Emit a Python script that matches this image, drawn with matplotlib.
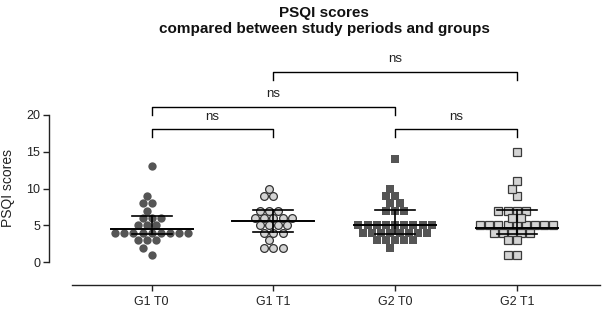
import numpy as np
import matplotlib
matplotlib.use("Agg")
import matplotlib.pyplot as plt

plt.rcParams["font.family"] = ["Liberation Sans", "DejaVu Sans"]

# data
groups = ["G1 T0", "G1 T1", "G2 T0", "G2 T1"]
g1_t0 = [13, 9, 8, 8, 7, 6, 6, 6, 5, 5, 5, 4, 4, 4, 4, 4, 4, 4, 4, 4, 3, 3, 3, 2, 1]
g1_t1 = [10, 9, 9, 7, 7, 7, 6, 6, 6, 6, 6, 5, 5, 5, 5, 4, 4, 4, 3, 2, 2, 2]
g2_t0 = [14, 10, 9, 9, 8, 8, 7, 7, 7, 5, 5, 5, 5, 5, 5, 5, 5, 5,
         4, 4, 4, 4, 4, 4, 4, 4, 3, 3, 3, 3, 3, 2]
g2_t1 = [15, 11, 10, 9, 7, 7, 7, 7, 6, 6, 5, 5, 5, 5, 5, 5, 5, 5, 5,
         4, 4, 4, 4, 4, 3, 3, 1, 1]
medians = [4.5, 5.6, 5.0, 4.7]
err_low = [3.8, 4.1, 3.9, 3.8]
err_high = [6.3, 7.1, 7.1, 7.1]

# comparisons: (left group, right group, bracket height)
brackets = [(0, 1, 18.05), (2, 3, 18.05), (0, 2, 21.1), (1, 3, 25.85)]
bracket_labels = ["ns", "ns", "ns", "ns"]

series = [g1_t0, g1_t1, g2_t0, g2_t1]
markers = ["o", "o", "s", "s"]
faces = ["#555555", "#d4d4d4", "#555555", "#d4d4d4"]
edges = ["#555555", "#333333", "#555555", "#3a3a3a"]

fig = plt.figure(figsize=(6.02, 3.10), dpi=100)
ax = fig.add_axes([0.0819, 0.0806, 0.9148, 0.739])
ax.set_xlim(-0.841, 3.684)
ax.set_ylim(-3.08, 28.0)

# pixel scales, used to keep the dots from piling on each other
px_x = ax.bbox.width / (3.684 + 0.841)
px_y = ax.bbox.height / (28.0 + 3.08)
step = 9.15  # px between neighbours in a row
diam = 8.5   # px, collision distance


def swarm_offsets(vals):
    """Prism-like layout: rows of tied values, shifted so rows don't collide."""
    vals = np.asarray(vals)
    uniq, counts = np.unique(vals, return_counts=True)
    cands = sorted(np.arange(-12, 12.5, 0.5), key=lambda s: (abs(s), s))
    placed = []  # (value, slot)
    for k in np.argsort(-counts, kind="stable"):
        v = uniq[k]
        row = []
        for _ in range(counts[k]):
            for s in cands:
                ok = True
                for pv, ps in placed + [(v, r) for r in row]:
                    dx = (s - ps) * step
                    dy = (v - pv) * px_y
                    if dx * dx + dy * dy < diam * diam - 1e-6:
                        ok = False
                        break
                if ok:
                    row.append(s)
                    break
        placed.extend((v, r) for r in row)
    ys = np.array([p[0] for p in placed], dtype=float)
    xs = np.array([p[1] for p in placed]) * step / px_x
    return xs, ys


for i, vals in enumerate(series):
    xs, ys = swarm_offsets(vals)
    light = faces[i] != edges[i]
    ax.plot(i + xs, ys, linestyle="none", marker=markers[i],
            markersize=5.6 if light else 6.0,
            markerfacecolor=faces[i], markeredgecolor=edges[i],
            markeredgewidth=0.9 if light else 0.0, zorder=2)

# median with error bars
for i in range(len(groups)):
    ax.plot([i - 0.336, i + 0.336], [medians[i]] * 2, color="black", lw=1.4, zorder=3)
    ax.plot([i, i], [err_low[i], err_high[i]], color="black", lw=1.2, zorder=3)
    for y in (err_low[i], err_high[i]):
        ax.plot([i - 0.165, i + 0.165], [y, y], color="black", lw=1.2, zorder=3)

# significance brackets
for (a, b, h), lab in zip(brackets, bracket_labels):
    ax.plot([a, a, b, b], [h - 1.05, h, h, h - 1.05], color="black", lw=1.0,
            clip_on=False, zorder=3)
    ax.text((a + b) / 2, h + 1.7, lab, ha="center", va="center", fontsize=9.5,
            color="#222222", clip_on=False)

for s in ("top", "right"):
    ax.spines[s].set_visible(False)
ax.spines["left"].set_bounds(0, 20)
ax.spines["bottom"].set_bounds(-0.657, 3.684)
for s in ("left", "bottom"):
    ax.spines[s].set_linewidth(1.0)
    ax.spines[s].set_color("#222222")

ax.set_yticks([0, 5, 10, 15, 20])
ax.set_xticks(range(len(groups)))
ax.set_xticklabels(groups)
ax.tick_params(axis="both", length=4.3, width=1.0, color="#222222",
               labelsize=9, labelcolor="#222222")
ax.tick_params(axis="x", pad=3.5)
ax.tick_params(axis="y", pad=2.2)

ax.set_ylabel("PSQI scores", fontsize=10, color="#222222")
ax.yaxis.set_label_coords(-0.062, 0.425)

fig.text(324 / 602, 1 - 5.5 / 310,
         "PSQI scores\ncompared between study periods and groups",
         ha="center", va="top", fontsize=11, fontweight="bold",
         linespacing=1.25, color="#111111")

fig.savefig("out.png", dpi=100, facecolor="white")
